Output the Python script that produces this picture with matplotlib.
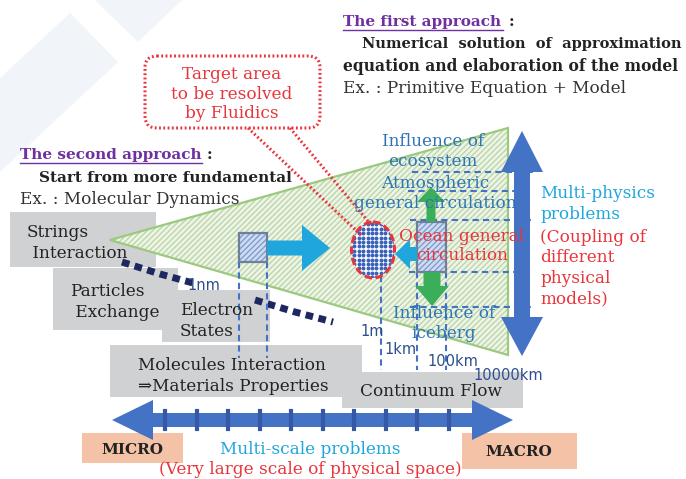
import numpy as np
import matplotlib
matplotlib.use("Agg")
import matplotlib.pyplot as plt
from matplotlib.patches import Polygon, Rectangle, Ellipse, FancyBboxPatch, FancyArrow

# ---- chart content (texts / labels) ----
scale_labels = ["1nm", "1m", "1km", "100km", "10000km"]
micro_boxes = ["Strings\n Interaction", "Particles\n Exchange", "Electron\nStates",
               "Molecules Interaction\n\u21d2Materials Properties", "Continuum Flow"]
first_approach = ["The first approach", "Numerical  solution  of  approximation",
                  "equation and elaboration of the model", "Ex. : Primitive Equation + Model"]
second_approach = ["The second approach", "Start from more fundamental", "Ex. : Molecular Dynamics"]
physics_blue = ["Influence of", "ecosystem", "Atmospheric", "general circulation",
                "Influence of", "iceberg"]
physics_red = "Ocean general\ncirculation"
callout_text = "Target area\nto be resolved\nby Fluidics"

# ---- layout (pixel coords, y down) ----
box_xy = [(10, 212, 146, 55), (53, 268, 125, 62), (162, 290, 108, 52),
          (110, 345, 252, 52), (342, 372, 181, 36)]
box_text_xy = [(27, 243), (70, 302), (180, 321), (138, 376), (360, 392)]
scale_xy = [(204, 286), (372, 332), (401, 350), (453, 361), (508, 376)]
physics_xy = [(433, 141), (433, 161), (435, 184), (435, 204), (444, 314), (444, 334)]

GRAY = "#d0d1d3"
BLUE = "#4472c4"
LBLUE = "#2e75b6"
CYAN = "#1fa7dd"
RED = "#e8353b"
GREEN = "#3aae5a"
PURPLE = "#7030a0"
SERIF = "DejaVu Serif"
FS = 12.2   # regular text
FB = 11.0   # bold text

fig = plt.figure(figsize=(6.86, 4.79), dpi=100)
ax = fig.add_axes([0, 0, 1, 1])
ax.set_xlim(0, 686)
ax.set_ylim(479, 0)
ax.axis("off")

# faint background shapes
ax.add_patch(Polygon([(0, 78), (70, 13), (118, 62), (0, 172)], color="#f1f4f8", lw=0, zorder=0))
ax.add_patch(Polygon([(95, 0), (182, 0), (138, 42)], color="#f1f4f8", lw=0, zorder=0))

# gray boxes
for (x, y, w, h), lab, (tx, ty) in zip(box_xy, micro_boxes, box_text_xy):
    ax.add_patch(Rectangle((x, y), w, h, color=GRAY, lw=0, zorder=1))
    ax.text(tx, ty, lab, fontsize=FS, family=SERIF, color="#222222", va="center",
            ha="left", linespacing=1.25, zorder=6)

# green triangle (scale space)
tri = [(110, 240), (508, 128), (508, 355)]
ax.add_patch(Polygon(tri, facecolor="#eef5e8", edgecolor="#bcd6a8", hatch="//////", lw=0, zorder=2))
ax.add_patch(Polygon(tri, fill=False, edgecolor="#9cc97f", lw=1.6, zorder=3))

# dotted navy scale line
ax.plot([122, 160, 193], [262, 274, 283], color="#1d2760", lw=5, ls=(0, (1.1, 0.8)), zorder=4)
ax.plot([255, 295, 333], [300, 312, 322], color="#1d2760", lw=5, ls=(0, (1.1, 0.8)), zorder=4)

# scale labels
for lab, (x, y) in zip(scale_labels, scale_xy):
    ax.text(x, y, lab, fontsize=10.5, color="#2d4f8e", ha="center", va="center",
            family="DejaVu Sans", zorder=7)

# dashed blue guide lines
dash = dict(color=BLUE, lw=1.5, ls=(0, (3, 2)), zorder=4)
for x in (239, 267):
    ax.plot([x, x], [262, 358], **dash)
ax.plot([381, 381], [276, 370], **dash)
for x in (417, 446):
    ax.plot([x, x], [272, 370], **dash)
for y, x0 in zip((172, 191, 220, 272, 307), (412, 408, 410, 409, 410)):
    ax.plot([x0, 533], [y, y], **dash)

# hatched blue squares
for (x, y, w, h) in [(239, 233, 28, 29), (417, 222, 29, 50)]:
    ax.add_patch(Rectangle((x, y), w, h, facecolor="#d0dcf0", edgecolor="#7f9dd2", hatch="//////", lw=0, zorder=5))
    ax.add_patch(Rectangle((x, y), w, h, fill=False, edgecolor="#6d7f99", lw=1.6, zorder=5))

# cyan arrows
ax.add_patch(FancyArrow(267, 248, 63, 0, width=15, head_width=46, head_length=28,
                        length_includes_head=True, color=CYAN, lw=0, zorder=5))
ax.add_patch(FancyArrow(417, 254, -22, 0, width=14, head_width=30, head_length=15,
                        length_includes_head=True, color=CYAN, lw=0, zorder=6))

# green arrows
ax.add_patch(FancyArrow(431, 222, 0, -35, width=9, head_width=28, head_length=15,
                        length_includes_head=True, color=GREEN, lw=0, zorder=6))
ax.add_patch(FancyArrow(432, 272, 0, 34, width=17, head_width=34, head_length=20,
                        length_includes_head=True, color=GREEN, lw=0, zorder=6))

# target ellipse with dot grid
ell = Ellipse((373, 250), 43, 56, facecolor="white", edgecolor="none", zorder=5)
ax.add_patch(ell)
gx, gy = np.meshgrid(np.arange(350, 398, 4.4), np.arange(220, 282, 4.4))
dots = ax.scatter(gx.ravel(), gy.ravel(), s=8, color="#3b62b8", lw=0, zorder=6)
dots.set_clip_path(ell)
ax.add_patch(Ellipse((373, 250), 43, 56, fill=False, edgecolor=RED, lw=2.2,
                     ls=(0, (2.5, 1.2)), zorder=7))

# callout box
ax.add_patch(FancyBboxPatch((151, 62), 163, 60, boxstyle="round,pad=6,rounding_size=12",
                            fill=False, edgecolor=RED, lw=2.2, ls=(0, (0.6, 0.8)), zorder=7))
ax.plot([248, 362], [128, 236], color=RED, lw=2.2, ls=(0, (0.6, 0.8)), zorder=7)
ax.plot([290, 372], [128, 226], color=RED, lw=2.2, ls=(0, (0.6, 0.8)), zorder=7)
ax.text(232, 94, callout_text, fontsize=FS, family=SERIF, color=RED, ha="center",
        va="center", linespacing=1.2, zorder=8)

# vertical double arrow (multi-physics)
cx = 522
ax.add_patch(Polygon([(cx, 131), (cx + 21, 172), (cx + 8, 172), (cx + 8, 317), (cx + 21, 317),
                      (cx, 356), (cx - 21, 317), (cx - 8, 317), (cx - 8, 172), (cx - 21, 172)],
                     color=BLUE, lw=0, zorder=4))

# horizontal double arrow (multi-scale)
cy = 420
ax.add_patch(Polygon([(112, cy), (153, cy - 20), (153, cy - 7), (472, cy - 7), (472, cy - 20),
                      (513, cy), (472, cy + 20), (472, cy + 7), (153, cy + 7), (153, cy + 20)],
                     color=BLUE, lw=0, zorder=4))
for x in np.arange(165, 450, 31.5):
    ax.plot([x, x], [cy - 9, cy + 9], color="#3559a5", lw=3, zorder=5)

# MICRO / MACRO boxes
ax.add_patch(Rectangle((82, 433), 101, 30, color="#f4c2a6", lw=0, zorder=3))
ax.add_patch(Rectangle((462, 433), 115, 36, color="#f4c2a6", lw=0, zorder=3))
ax.text(132, 450, "MICRO", fontsize=FB, family=SERIF, weight="bold", color="#222222",
        ha="center", va="center", zorder=6)
ax.text(519, 452, "MACRO", fontsize=FB, family=SERIF, weight="bold", color="#222222",
        ha="center", va="center", zorder=6)
ax.text(310, 450, "Multi-scale problems", fontsize=FS, family=SERIF, color=CYAN,
        ha="center", va="center", zorder=6)
ax.text(310, 469, "(Very large scale of physical space)", fontsize=FS, family=SERIF,
        color=RED, ha="center", va="center", zorder=6)

# multi-physics labels
ax.text(540, 204, "Multi-physics\nproblems", fontsize=FS, family=SERIF, color=CYAN,
        ha="left", va="center", linespacing=1.25, zorder=6)
ax.text(540, 268, "(Coupling of\ndifferent\nphysical\nmodels)", fontsize=FS, family=SERIF,
        color=RED, ha="left", va="center", linespacing=1.25, zorder=6)

# physics inside the triangle
for lab, (x, y) in zip(physics_blue, physics_xy):
    ax.text(x, y, lab, fontsize=FS, family=SERIF, color=LBLUE, ha="center", va="center",
            zorder=8)
ax.text(462, 246, physics_red, fontsize=FS, family=SERIF, color=RED, ha="center",
        va="center", linespacing=1.2, zorder=8)

# first approach
ax.text(343, 22, first_approach[0], fontsize=FB, family=SERIF, weight="bold", color=PURPLE,
        va="center", zorder=8)
ax.plot([343, 503], [30, 30], color=PURPLE, lw=1, zorder=8)
ax.text(509, 22, ":", fontsize=FB, family=SERIF, weight="bold", color="#222222", va="center")
ax.text(362, 44, first_approach[1], fontsize=10.5, family=SERIF, weight="bold",
        color="#222222", va="center")
ax.text(343, 66, first_approach[2], fontsize=11.2, family=SERIF, weight="bold",
        color="#222222", va="center")
ax.text(343, 88, first_approach[3], fontsize=FS, family=SERIF, color="#333333", va="center")

# second approach
ax.text(20, 155, second_approach[0], fontsize=FB, family=SERIF, weight="bold", color=PURPLE,
        va="center", zorder=8)
ax.plot([20, 202], [163, 163], color=PURPLE, lw=1, zorder=8)
ax.text(207, 155, ":", fontsize=FB, family=SERIF, weight="bold", color="#222222", va="center")
ax.text(39, 178, second_approach[1], fontsize=FB, family=SERIF, weight="bold",
        color="#222222", va="center", zorder=8)
ax.text(20, 199, second_approach[2], fontsize=FS, family=SERIF, color="#333333", va="center",
        zorder=8)

fig.savefig("out.png", dpi=100)
